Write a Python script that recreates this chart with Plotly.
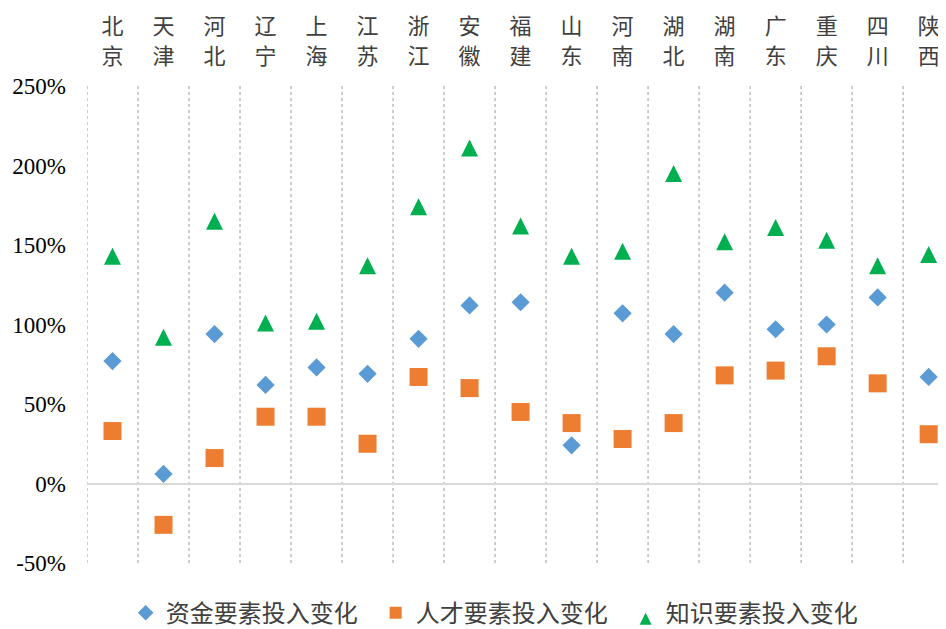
import plotly.graph_objects as go

provinces = ["北京", "天津", "河北", "辽宁", "上海", "江苏", "浙江", "安徽", "福建",
             "山东", "河南", "湖北", "湖南", "广东", "重庆", "四川", "陕西"]
capital = [77, 6, 94, 62, 73, 69, 91, 112, 114, 24, 107, 94, 120, 97, 100, 117, 67]
talent = [33, -26, 16, 42, 42, 25, 67, 60, 45, 38, 28, 38, 68, 71, 80, 63, 31]
knowledge = [143, 92, 165, 101, 102, 137, 174, 211, 162, 143, 146, 195, 152, 161, 153, 137, 144]
series_names = ["资金要素投入变化", "人才要素投入变化", "知识要素投入变化"]
y_ticks = [-50, 0, 50, 100, 150, 200, 250]
y_tick_text = ["-50%", "0%", "50%", "100%", "150%", "200%", "250%"]

xs = list(range(len(provinces)))
first_chars = [p[0] for p in provinces]
second_chars = [p[1] for p in provinces]

Y_RANGE = [-50, 250]
X_RANGE = [-0.5, 16.34]
PLOT_H = 477          # plot area height in px
TRI = 17              # triangle marker size in px
tri_shift = (TRI / 2) * (Y_RANGE[1] - Y_RANGE[0]) / PLOT_H  # centre the apex-anchored triangle

fig = go.Figure()
fig.add_trace(go.Scatter(x=xs, y=capital, mode="markers", name=series_names[0],
                         marker=dict(symbol="diamond", size=14, color="#5B9BD5",
                                     line=dict(width=0))))
fig.add_trace(go.Scatter(x=xs, y=talent, mode="markers", name=series_names[1],
                         marker=dict(symbol="square", size=18, color="#ED7D31",
                                     line=dict(width=0))))
fig.add_trace(go.Scatter(x=xs, y=knowledge, mode="markers", name=series_names[2],
                         yaxis="y2",
                         marker=dict(symbol="arrow-up", size=TRI, color="#00B050",
                                     line=dict(width=0))))
# invisible trace to carry the second (upper) row of category labels
fig.add_trace(go.Scatter(x=xs, y=[None] * len(xs), xaxis="x2", showlegend=False,
                         hoverinfo="skip", mode="markers"))

# vertical category separators
for i in range(len(provinces) + 1):
    fig.add_shape(type="line", xref="x", yref="paper", x0=i - 0.5, x1=i - 0.5, y0=0, y1=1,
                  line=dict(color="#BDBDBD", width=1.5, dash="dot"), layer="below")

serif = "Liberation Serif, Times New Roman, serif"
cjk = "Noto Sans CJK SC"
label_font = dict(family=cjk, size=22, color="#404040")

# page body has an 8px margin -> figure placed at (8, 8)
fig.update_layout(
    width=938, height=621,
    margin=dict(l=79, r=0, t=78, b=66, autoexpand=False),
    paper_bgcolor="white", plot_bgcolor="white",
    showlegend=True,
    legend=dict(orientation="h", x=0.045, xanchor="left", y=-0.105, yanchor="middle",
                font=dict(family=cjk, size=24, color="#404040"),
                tracegroupgap=0, itemsizing="constant", itemwidth=30,
                entrywidth=205, entrywidthmode="pixels"),
    xaxis=dict(
        range=X_RANGE, side="top", automargin=False,
        tickmode="array", tickvals=xs, ticktext=second_chars,
        tickfont=label_font,
        showgrid=False, zeroline=False, showline=False, ticks="",
        ticklabelstandoff=17,
    ),
    xaxis2=dict(
        range=X_RANGE, side="top", overlaying="x", anchor="y", automargin=False,
        tickmode="array", tickvals=xs, ticktext=first_chars,
        tickfont=label_font,
        showgrid=False, zeroline=False, showline=False, ticks="",
        ticklabelstandoff=47,
    ),
    yaxis=dict(
        range=Y_RANGE, tickmode="array", tickvals=y_ticks, ticktext=y_tick_text,
        automargin=False,
        tickfont=dict(family=serif, size=23, color="#000000"),
        showgrid=False, zeroline=True, zerolinecolor="#D9D9D9", zerolinewidth=2,
        showline=False, ticks="", ticklabelstandoff=20,
    ),
    yaxis2=dict(
        range=[Y_RANGE[0] - tri_shift, Y_RANGE[1] - tri_shift], overlaying="y",
        visible=False, showgrid=False, zeroline=False,
    ),
)

fig.write_html("out.html")
